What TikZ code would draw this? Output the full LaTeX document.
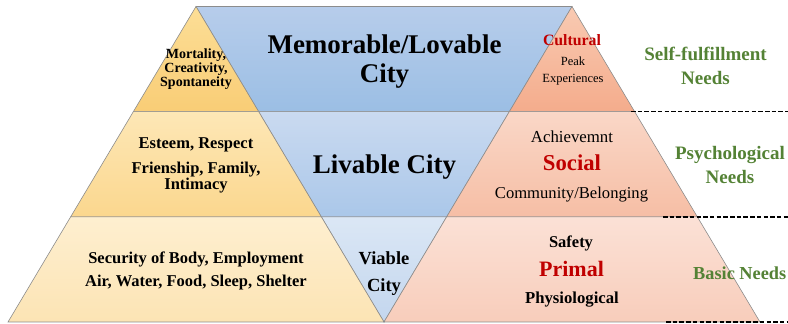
\documentclass[tikz,border=0pt]{standalone}
\usepackage{fontspec}
\setmainfont{Liberation Serif}
\usetikzlibrary{calc}

\definecolor{edgegray}{RGB}{140,140,140}
\definecolor{needgreen}{RGB}{84,130,53}
\definecolor{levelred}{RGB}{192,0,0}

\begin{document}
\begin{tikzpicture}[x=1pt, y=1pt,
    tier/.style={draw=edgegray, line width=0.6pt},
    goldtop/.style={tier, top color={rgb,255:red,252;green,222;blue,150}, bottom color={rgb,255:red,249;green,205;blue,118}},
    goldmid/.style={tier, top color={rgb,255:red,253;green,231;blue,182}, bottom color={rgb,255:red,251;green,215;blue,142}},
    goldbot/.style={tier, top color={rgb,255:red,254;green,239;blue,208}, bottom color={rgb,255:red,252;green,228;blue,180}},
    bluetop/.style={tier, top color={rgb,255:red,183;green,205;blue,235}, bottom color={rgb,255:red,155;green,190;blue,228}},
    bluemid/.style={tier, top color={rgb,255:red,202;green,218;blue,240}, bottom color={rgb,255:red,170;green,199;blue,233}},
    bluebot/.style={tier, top color={rgb,255:red,219;green,231;blue,245}, bottom color={rgb,255:red,195;green,214;blue,238}},
    salmontop/.style={tier, top color={rgb,255:red,249;green,202;blue,178}, bottom color={rgb,255:red,244;green,172;blue,140}},
    salmonmid/.style={tier, top color={rgb,255:red,250;green,215;blue,199}, bottom color={rgb,255:red,246;green,190;blue,165}},
    salmonbot/.style={tier, top color={rgb,255:red,251;green,225;blue,214}, bottom color={rgb,255:red,248;green,205;blue,187}},
    lbl/.style={inner sep=0pt, align=center},
    needtxt/.style={lbl, text=needgreen, font=\fontsize{19}{24}\selectfont\bfseries},
    needline/.style={line width=1.6pt, dash pattern=on 4.5pt off 2.2pt},
]
    \useasboundingbox (0,0) rectangle (788,324);

    % corners of the two pyramids
    \coordinate (la) at (196,317.5);
    \coordinate (ll) at (8,2);
    \coordinate (lr) at (384,2);
    \coordinate (ra) at (572,317.5);
    \coordinate (rr) at (760,2);

    \coordinate (l1w) at ($(la)!1/3!(ll)$);
    \coordinate (l1e) at ($(la)!1/3!(lr)$);
    \coordinate (l2w) at ($(la)!2/3!(ll)$);
    \coordinate (l2e) at ($(la)!2/3!(lr)$);
    \coordinate (r1w) at ($(ra)!1/3!(lr)$);
    \coordinate (r1e) at ($(ra)!1/3!(rr)$);
    \coordinate (r2w) at ($(ra)!2/3!(lr)$);
    \coordinate (r2e) at ($(ra)!2/3!(rr)$);

    % city triangle
    \draw[bluetop] (la) -- (ra) -- (r1w) -- (l1e) -- cycle;
    \draw[bluemid] (l1e) -- (r1w) -- (r2w) -- (l2e) -- cycle;
    \draw[bluebot] (l2e) -- (r2w) -- (lr) -- cycle;

    % left pyramid
    \draw[goldtop] (la) -- (l1e) -- (l1w) -- cycle;
    \draw[goldmid] (l1w) -- (l1e) -- (l2e) -- (l2w) -- cycle;
    \draw[goldbot] (l2w) -- (l2e) -- (lr) -- (ll) -- cycle;

    % right pyramid
    \draw[salmontop] (ra) -- (r1e) -- (r1w) -- cycle;
    \draw[salmonmid] (r1w) -- (r1e) -- (r2e) -- (r2w) -- cycle;
    \draw[salmonbot] (r2w) -- (r2e) -- (rr) -- (lr) -- cycle;

    \node[lbl, font=\fontsize{14}{14.2}\selectfont\bfseries] (mort) at (196,254.6) {Mortality,\\Creativity,\\Spontaneity};
    \node[lbl, font=\fontsize{16.5}{16.5}\selectfont\bfseries] (esteem) at (196,179) {Esteem, Respect};
    \node[lbl, font=\fontsize{16.5}{16.5}\selectfont\bfseries] (friend) at (196,146.5) {Frienship, Family,\\Intimacy};
    \node[lbl, font=\fontsize{16.5}{23}\selectfont\bfseries] (security) at (196,53) {Security of Body, Employment\\Air, Water, Food, Sleep, Shelter};

    \node[lbl, font=\fontsize{27}{28.4}\selectfont\bfseries] (memorable) at (384.5,262.3) {Memorable/Lovable\\City};
    \node[lbl, font=\fontsize{27}{28}\selectfont\bfseries] (livable) at (384.5,156.5) {Livable City};
    \node[lbl, font=\fontsize{18.5}{27.7}\selectfont\bfseries] (viable) at (384,50.3) {Viable\\City};

    \node[lbl, text=levelred, font=\fontsize{15.8}{16}\selectfont\bfseries] (cultural) at (572,284.3) {Cultural};
    \node[lbl, font=\fontsize{12.5}{17}\selectfont] (peak) at (573,253.5) {Peak\\Experiences};
    \node[lbl, font=\fontsize{16.8}{17}\selectfont] (achieve) at (572,187.2) {Achievemnt};
    \node[lbl, text=levelred, font=\fontsize{22.7}{23}\selectfont\bfseries] (social) at (572,161.2) {Social};
    \node[lbl, font=\fontsize{16.6}{17}\selectfont] (community) at (571.5,129.5) {Community/Belonging};
    \node[lbl, font=\fontsize{16.5}{17}\selectfont\bfseries] (safety) at (571,80.7) {Safety};
    \node[lbl, text=levelred, font=\fontsize{22}{23}\selectfont\bfseries] (primal) at (571.5,55.5) {Primal};
    \node[lbl, font=\fontsize{16.7}{17}\selectfont\bfseries] (physio) at (572,24.5) {Physiological};

    \node[needtxt] (selfneeds) at (705.5,258.2) {Self-fulfillment\\Needs};
    \node[needtxt] (psychneeds) at (730,159.3) {Psychological\\Needs};
    \node[needtxt, font=\fontsize{18.3}{24}\selectfont\bfseries, anchor=west] (basicneeds) at (693,50.7) {Basic Needs};

    % level separators
    \coordinate (d1a) at (631,212.3);
    \coordinate (d1b) at (788,212.3);
    \coordinate (d2a) at (663,107);
    \coordinate (d2b) at (788,107);
    \coordinate (d3a) at (666,2);
    \coordinate (d3b) at (788,2);
    \draw[needline] (d1a) -- (d1b);
    \draw[needline] (d2a) -- (d2b);
    \draw[needline] (d3a) -- (d3b);
\end{tikzpicture}
\end{document}
